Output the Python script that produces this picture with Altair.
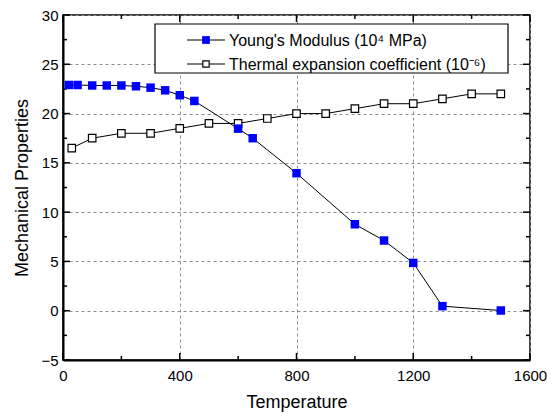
import altair as alt
import pandas as pd

# ---- data ----
ym_temp = [20, 50, 100, 150, 200, 250, 300, 350, 400, 450, 600, 650, 800, 1000, 1100, 1200, 1300, 1500]
ym_vals = [22.9, 22.9, 22.85, 22.85, 22.85, 22.77, 22.63, 22.36, 21.86, 21.28, 18.47, 17.5, 13.95, 8.77, 7.12, 4.85, 0.46, 0.02]

te_temp = [30, 100, 200, 300, 400, 500, 600, 700, 800, 900, 1000, 1100, 1200, 1300, 1400, 1500]
te_vals = [16.5, 17.5, 18.0, 18.0, 18.5, 19.0, 19.0, 19.5, 20.0, 20.0, 20.5, 21.0, 21.0, 21.5, 22.0, 22.0]

series_names = ["Young's Modulus (10⁴ MPa)", "Thermal expansion coefficient (10⁻⁶)"]

x_major = [0, 400, 800, 1200, 1600]
x_minor = [200, 600, 1000, 1400]
y_major = [-5, 0, 5, 10, 15, 20, 25, 30]
y_minor = [-2.5, 2.5, 7.5, 12.5, 17.5, 22.5, 27.5]

W, H = 467, 345
FONT = "Liberation Sans"

df_ym = pd.DataFrame({"T": ym_temp, "v": ym_vals})
df_te = pd.DataFrame({"T": te_temp, "v": te_vals})

xs = alt.Scale(domain=[0, 1600], nice=False, zero=False)
ys = alt.Scale(domain=[-5, 30], nice=False, zero=False)

X = alt.X("T:Q", scale=xs,
          axis=alt.Axis(values=x_major, title="Temperature", format="d",
                        grid=True, gridDash=[3, 3], gridColor="#8c8c8c", gridWidth=1,
                        ticks=False, labelPadding=8, labelFontSize=15, labelFont=FONT,
                        labelFlush=False, labelOverlap=False,
                        titleFontSize=18, titleFont=FONT, titleFontWeight="normal",
                        titlePadding=10, labelColor="black", titleColor="black",
                        domainColor="black", domainWidth=2))
Y = alt.Y("v:Q", scale=ys,
          axis=alt.Axis(values=y_major, title="Mechanical Properties", format="d",
                        grid=True, gridDash=[3, 3], gridColor="#8c8c8c", gridWidth=1,
                        ticks=False, labelPadding=5, labelFontSize=15, labelFont=FONT,
                        labelFlush=False, labelOverlap=False,
                        titleFontSize=18, titleFont=FONT, titleFontWeight="normal",
                        titlePadding=9, labelColor="black", titleColor="black",
                        domainColor="black", domainWidth=2))

te_line = alt.Chart(df_te).mark_line(color="black", strokeWidth=1).encode(x=X, y=Y)
te_pts = alt.Chart(df_te).mark_point(shape="square", filled=True, fill="white",
                                     stroke="black", strokeWidth=1.2, size=56,
                                     opacity=1).encode(x="T:Q", y="v:Q")
ym_line = alt.Chart(df_ym).mark_line(color="black", strokeWidth=1).encode(x="T:Q", y="v:Q")
ym_pts = alt.Chart(df_ym).mark_point(shape="square", filled=True, fill="#0000ff",
                                     strokeWidth=0, size=72,
                                     opacity=1).encode(x="T:Q", y="v:Q")

# ---- inward ticks on all four sides ----
def xticks(vals, ln):
    d = pd.DataFrame({"T": vals})
    b = alt.Chart(d).mark_rule(color="black", strokeWidth=1.5).encode(
        x="T:Q", y=alt.value(H), y2=alt.value(H - ln))
    t = alt.Chart(d).mark_rule(color="black", strokeWidth=1.5).encode(
        x="T:Q", y=alt.value(0), y2=alt.value(ln))
    return [b, t]

def yticks(vals, ln):
    d = pd.DataFrame({"v": vals})
    l = alt.Chart(d).mark_rule(color="black", strokeWidth=1.5).encode(
        y="v:Q", x=alt.value(0), x2=alt.value(ln))
    r = alt.Chart(d).mark_rule(color="black", strokeWidth=1.5).encode(
        y="v:Q", x=alt.value(W), x2=alt.value(W - ln))
    return [l, r]

ticks = xticks(x_major, 7) + xticks(x_minor, 4) + yticks(y_major, 7) + yticks(y_minor, 4)

# ---- legend ----
one = pd.DataFrame({"a": [0]})
leg_box = alt.Chart(one).mark_rect(fill="white", stroke="black", strokeWidth=1.2).encode(
    x=alt.value(92), x2=alt.value(445), y=alt.value(9), y2=alt.value(58))

leg_layers = [leg_box]
rows_y = [25, 49]
for i, name in enumerate(series_names):
    d = pd.DataFrame({"label": [name]})
    ry = rows_y[i]
    leg_layers.append(alt.Chart(d).mark_rule(color="black", strokeWidth=1).encode(
        x=alt.value(124), x2=alt.value(162), y=alt.value(ry)))
    if i == 0:
        leg_layers.append(alt.Chart(d).mark_point(shape="square", filled=True, fill="#0000ff",
                                                  strokeWidth=0, size=60, opacity=1).encode(
            x=alt.value(143), y=alt.value(ry)))
    else:
        leg_layers.append(alt.Chart(d).mark_point(shape="square", filled=True, fill="white",
                                                  stroke="black", strokeWidth=1.2, size=40,
                                                  opacity=1).encode(
            x=alt.value(143), y=alt.value(ry)))
    leg_layers.append(alt.Chart(d).mark_text(align="left", baseline="middle", font=FONT,
                                             fontSize=16, color="black").encode(
        x=alt.value(166), y=alt.value(ry + 1), text="label:N"))

chart = alt.layer(te_line, *ticks, te_pts, ym_line, ym_pts, *leg_layers).properties(
    width=W, height=H,
    autosize=alt.AutoSizeParams(type="none"),
    padding={"left": 63, "top": 15, "right": 23, "bottom": 56},
    background="white",
).configure_view(stroke="black", strokeWidth=1.5)

chart.save("out.html", embed_options={"renderer": "svg", "actions": False})
